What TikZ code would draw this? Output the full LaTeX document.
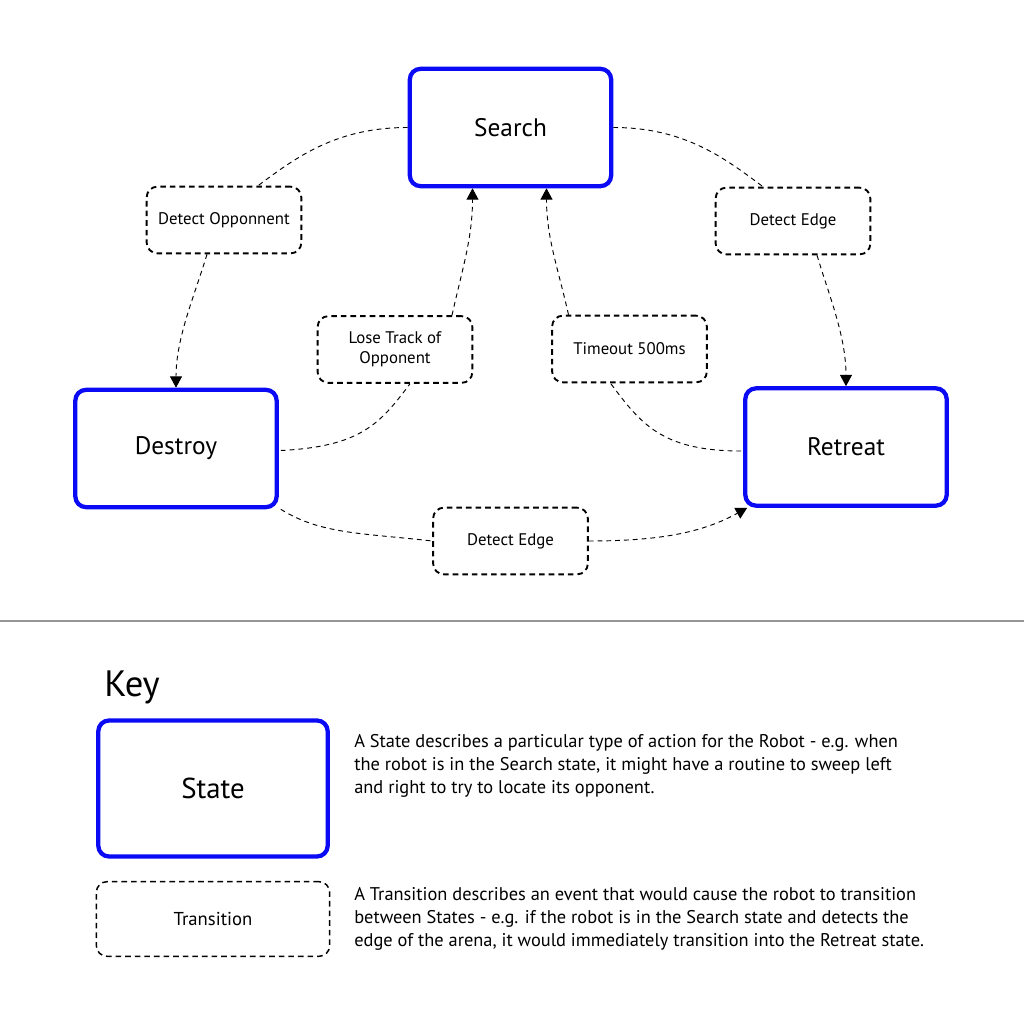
\documentclass[tikz,border=0pt]{standalone}
\usepackage{fontspec}
\setmainfont{PT Sans}
\usetikzlibrary{arrows.meta,calc}
\definecolor{stateblue}{RGB}{10,10,245}
\definecolor{rulegray}{RGB}{150,150,150}
\begin{document}
\begin{tikzpicture}[x=0.75pt,y=-0.75pt,
  statebox/.style={draw=stateblue, line width=3.2pt, rounded corners=8pt, minimum width=151pt, minimum height=88pt, font=\fontsize{19}{21}\selectfont, inner sep=0pt},
  transbox/.style={draw=black, line width=1.4pt, dash pattern=on 4.2pt off 3pt, rounded corners=8pt, minimum width=116pt, minimum height=50pt, font=\fontsize{12.6}{15}\selectfont, align=center, inner sep=0pt},
  conn/.style={draw=black, line width=0.7pt, dash pattern=on 3.6pt off 3pt},
  arr/.style={conn, -{Triangle[width=9pt,length=8.5pt]}},
  desc/.style={font=\fontsize{13.8}{17.25}\selectfont, align=left, anchor=west, inner sep=0pt}
]
\useasboundingbox (0,0) rectangle (1024,1024);

% states
\node[statebox] (search)  at (510.5,127.5) {Search};
\node[statebox] (destroy) at (176,448.5) {Destroy};
\node[statebox] (retreat) at (846,447) {Retreat};

% transitions
\node[transbox] (detopp)  at (224,220) {Detect Opponnent};
\node[transbox] (edgeR)   at (793,221) {Detect Edge};
\node[transbox] (lose)    at (395,349.5) {Lose Track of\\Opponent};
\node[transbox] (timeout) at (629.5,349) {Timeout 500ms};
\node[transbox] (edgeB)   at (510.5,541) {Detect Edge};

% connectors
\draw[conn] (search.west) .. controls +(-70,0) and +(40,-30) .. ($(detopp.north)+(34,0)$);
\draw[arr] ($(detopp.south)+(-17,0)$) .. controls +(-12,40) and +(0,-50) .. (destroy.north);
\draw[conn] (search.east) .. controls +(70,0) and +(-40,-30) .. ($(edgeR.north)+(-30,0)$);
\draw[arr] ($(edgeR.south)+(24,0)$) .. controls +(12,40) and +(0,-50) .. (retreat.north);
\draw[conn] ($(destroy.east)+(2,2)$) .. controls +(80,-4) and +(-30,40) .. ($(lose.south)+(15,0)$);
\draw[arr] ($(lose.north)+(57,0)$) .. controls +(10,-45) and +(0,50) .. ($(search.south)+(-38,0)$);
\draw[conn] ($(retreat.west)+(-2,4)$) .. controls +(-80,0) and +(30,40) .. ($(timeout.south)+(-19,0)$);
\draw[arr] ($(timeout.north)+(-61,0)$) .. controls +(-10,-45) and +(0,50) .. ($(search.south)+(36,0)$);
\draw[conn] ($(destroy.south east)+(2,0)$) .. controls +(40,25) and +(-70,-8) .. (edgeB.west);
\draw[arr] (edgeB.east) .. controls +(70,0) and +(-45,25) .. ($(retreat.south west)+(4,0)$);

% separator
\draw[rulegray, line width=0.9pt] (0,621) -- (1024,621);

% key
\node[anchor=west, inner sep=0pt, font=\fontsize{27.5}{30}\selectfont] (keytitle) at (104,687) {Key};
\node[statebox, minimum width=172pt, minimum height=102pt, font=\fontsize{21.6}{24}\selectfont] (keystate) at (213,788.5) {State};
\node[transbox, line width=1.1pt, minimum width=175pt, minimum height=56pt, font=\fontsize{14}{16}\selectfont] (keytrans) at (213,919) {Transition};
\node[desc] (statedesc) at (354,766) {A State describes a particular type of action for the Robot - e.g. when\\the robot is in the Search state, it might have a routine to sweep left\\and right to try to locate its opponent.};
\node[desc] (transdesc) at (354,919) {A Transition describes an event that would cause the robot to transition\\between States - e.g. if the robot is in the Search state and detects the\\edge of the arena, it would immediately transition into the Retreat state.};
\end{tikzpicture}
\end{document}
